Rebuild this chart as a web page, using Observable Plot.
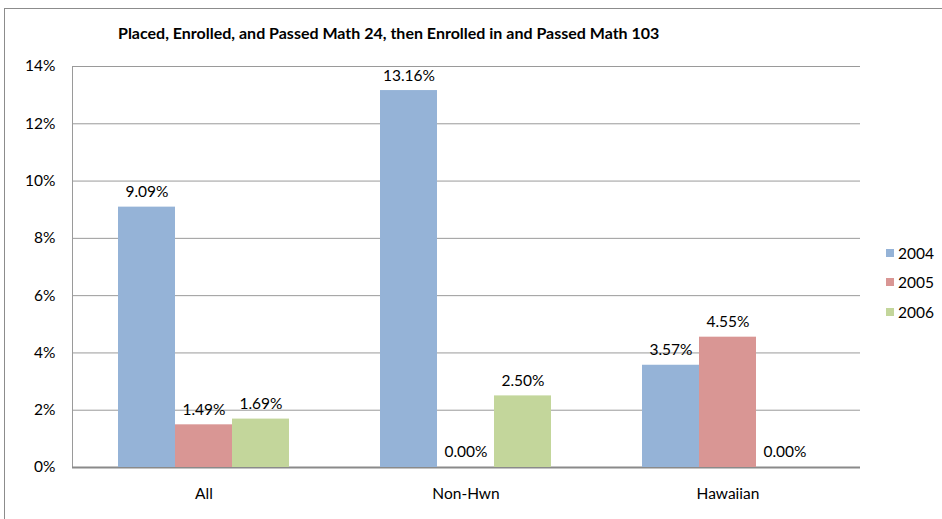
<!DOCTYPE html>
<html>
<head>
<meta charset="utf-8">
<script src="https://cdn.jsdelivr.net/npm/d3@7"></script>
<script src="https://cdn.jsdelivr.net/npm/@observablehq/plot@0.6"></script>
<style>
  html, body { margin: 0; padding: 0; background: #fff; }
  #wrap { position: relative; width: 942px; height: 519px; overflow: hidden; font-family: Lato, "Open Sans", sans-serif; }
  #border { position: absolute; left: 4px; top: 8px; width: 1000px; height: 600px; border: 1px solid #8c8c8c; box-sizing: border-box; }
  #title { position: absolute; left: 118px; top: 23px; font-size: 16px; font-weight: bold; color: #000; white-space: nowrap; }
  #legend { position: absolute; left: 886px; top: 238px; font-size: 15.5px; color: #000; }
  .item { height: 29.5px; display: flex; align-items: center; }
  .sw { width: 8px; height: 8px; margin-right: 4px; }
  .layer { position: absolute; left: 0; top: 0; }
</style>
</head>
<body>
<div id="wrap">
  <div id="border"></div>
  <div id="grid" class="layer"></div>
  <div id="chart" class="layer"></div>
  <div id="title"></div>
  <div id="legend"></div>
</div>
<script>
const title = "Placed, Enrolled, and Passed Math 24, then Enrolled in and Passed Math 103";
const categories = ["All", "Non-Hwn", "Hawaiian"];
const years = ["2004", "2005", "2006"];
const v2004 = [9.09, 13.16, 3.57];
const v2005 = [1.49, 0.00, 4.55];
const v2006 = [1.69, 2.50, 0.00];
const yTicks = [0, 2, 4, 6, 8, 10, 12, 14];
const colors = ["#95b3d7", "#d99694", "#c3d69b"];

const series = [v2004, v2005, v2006];
const data = categories.flatMap((c, i) => years.map((y, j) => ({cat: c, year: y, value: series[j][i]})));

const dims = {width: 942, height: 519, marginLeft: 72, marginRight: 82, marginTop: 66, marginBottom: 52};
const style = {fontFamily: "Lato, 'Open Sans', sans-serif", fontSize: "15.5px", color: "#000", background: "transparent", overflow: "visible"};

// Background layer: gridlines, y axis, baseline
const grid = Plot.plot({
  ...dims,
  style,
  x: {domain: [0, 1], axis: null},
  y: {domain: [0, 14], axis: null},
  marks: [
    Plot.gridY(yTicks.slice(1), {stroke: "#9a9a9a", strokeOpacity: 1}),
    Plot.axisY(yTicks, {tickSize: 0, tickPadding: 17, tickFormat: d => d + "%", fontSize: 15.5, label: null}),
    Plot.ruleX([0], {stroke: "#9a9a9a"}),
    Plot.ruleY([0], {stroke: "#8a8a8a", strokeWidth: 2})
  ]
});
document.getElementById("grid").appendChild(grid);

// Foreground layer: grouped bars, labels, category axis
const chart = Plot.plot({
  ...dims,
  style,
  fx: {domain: categories, paddingInner: 0.338, paddingOuter: 0.169, label: null, axis: "bottom", tickSize: 0, tickPadding: 20},
  x: {domain: years, padding: 0, axis: null},
  y: {domain: [0, 14], axis: null},
  color: {domain: years, range: colors},
  marks: [
    Plot.barY(data, {fx: "cat", x: "year", y: "value", fill: "year"}),
    Plot.text(data, {fx: "cat", x: "year", y: "value", text: d => d.value.toFixed(2) + "%", dy: -15, fontSize: 15.5})
  ]
});
document.getElementById("chart").appendChild(chart);

document.getElementById("title").textContent = title;
const legend = document.getElementById("legend");
years.forEach((y, i) => {
  const it = document.createElement("div");
  it.className = "item";
  const sw = document.createElement("div");
  sw.className = "sw";
  sw.style.background = colors[i];
  const t = document.createElement("span");
  t.textContent = y;
  it.appendChild(sw);
  it.appendChild(t);
  legend.appendChild(it);
});
</script>
</body>
</html>
